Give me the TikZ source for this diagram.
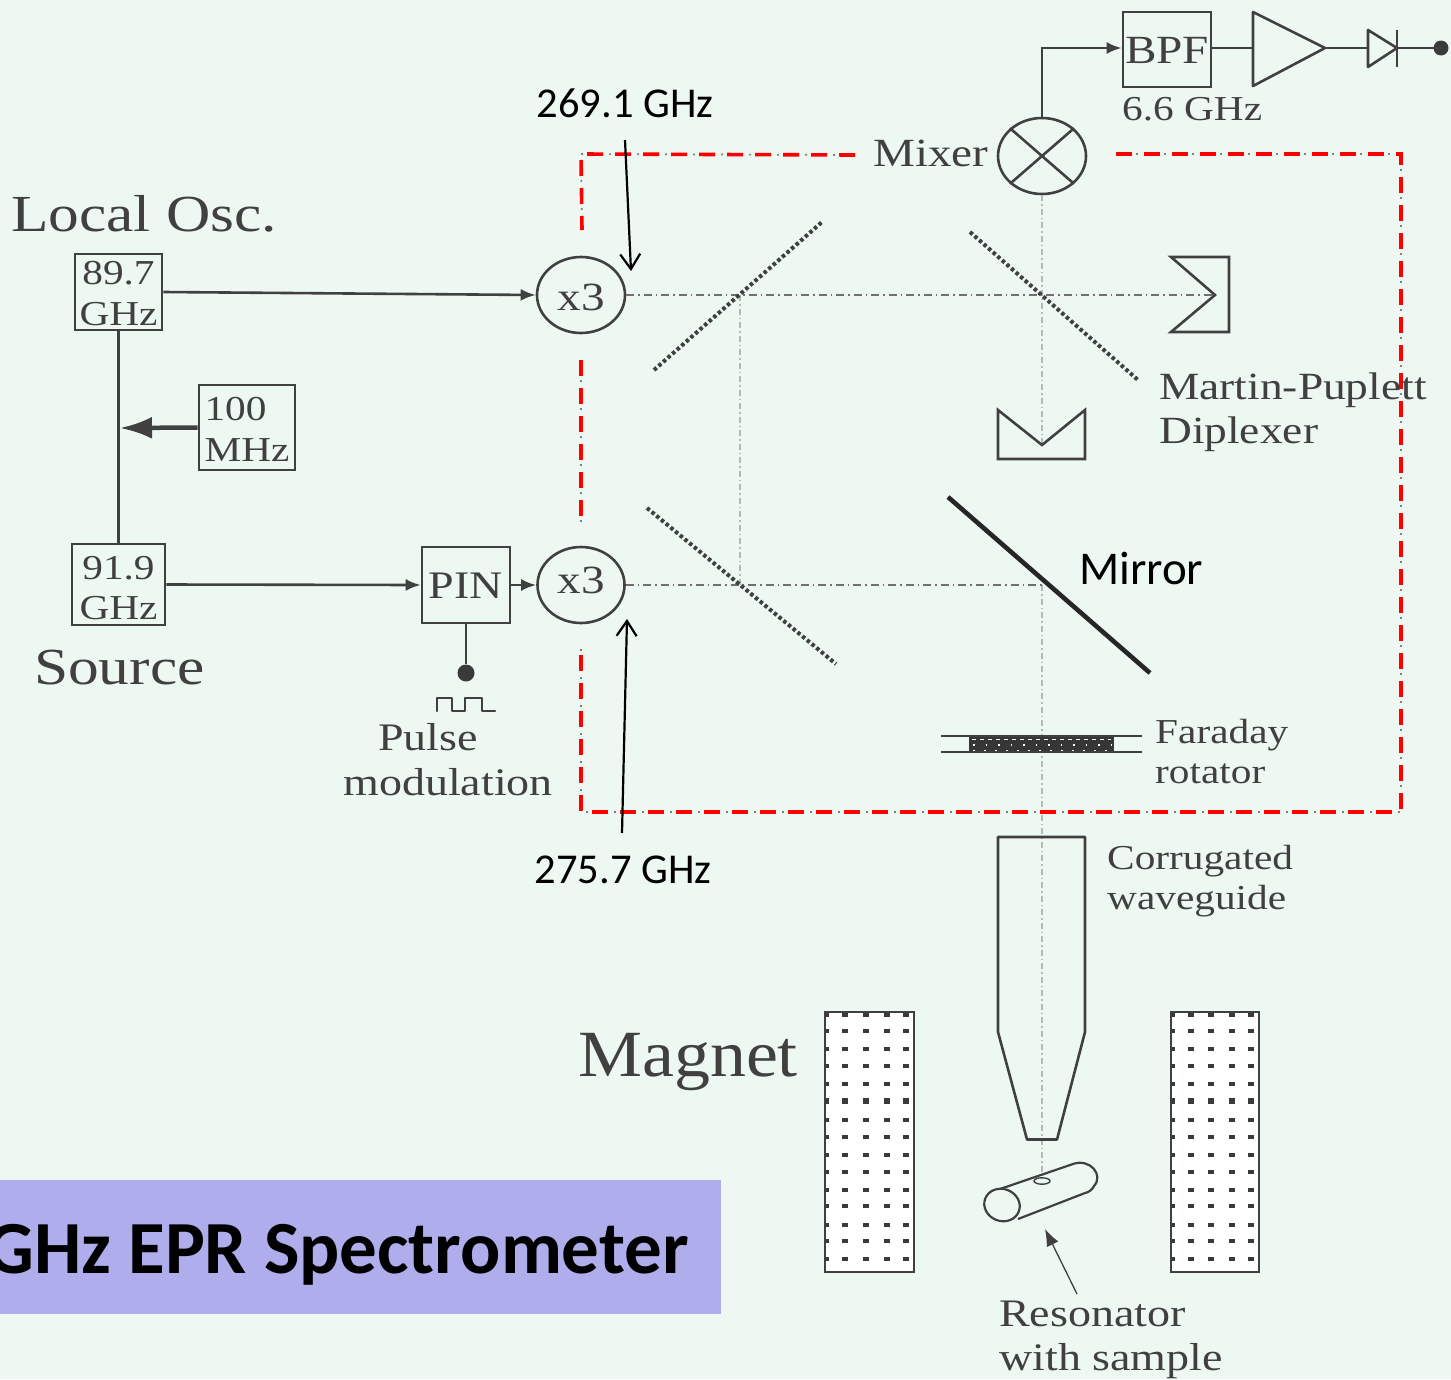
\documentclass[tikz,border=0pt]{standalone}
\usepackage{fontspec}
\setmainfont[FakeStretch=1.18]{Liberation Serif}
\newfontfamily\magfont[FakeStretch=1.09]{Liberation Serif}
\newfontfamily\calib{Carlito}
\usetikzlibrary{arrows.meta,shapes.geometric}
\definecolor{bgc}{HTML}{EEF8F3}
\definecolor{ink}{HTML}{404040}
\definecolor{barc}{HTML}{AFADEB}
\definecolor{beamc}{HTML}{B4B9B7}
\newcommand\fs[2]{\fontsize{#1}{#2}\selectfont}
\tikzset{
  wire/.style={draw=ink,line width=2.6pt},
  box/.style={draw=ink,line width=2.6pt,inner sep=0pt},
  boxtxt/.style={text=ink,inner sep=0pt,align=center},
  circ/.style={ellipse,draw=ink,line width=2.6pt,inner sep=0pt,text=ink},
  lbl/.style={text=ink,inner sep=0pt,align=left,anchor=west},
  anno/.style={text=black,inner sep=0pt,font=\calib\fs{42.5}{46}},
  beam/.style={draw=beamc,line width=2.2pt,dash pattern=on 6pt off 3pt on 1.5pt off 3pt},
  beamdark/.style={draw=ink!75,line width=1.5pt,dash pattern=on 8pt off 4pt on 1.5pt off 4pt},
  redline/.style={draw=red,line width=3.6pt,dash pattern=on 16pt off 12pt},
  grayline/.style={draw=gray,line width=1.7pt,dash pattern=on 8pt off 5pt on 2pt off 5pt on 2pt off 6pt},
  grid/.style={draw=ink,line width=4pt,dash pattern=on 3.5pt off 2.6pt},
  ann/.style={draw=black,line width=2.2pt,-{Straight Barb[length=15pt,width=20pt,line width=2.2pt]}},
  tip/.style={-{Latex[length=15pt,width=12pt]}},
  mag/.style={draw=ink,line width=2.6pt,fill=white},
  magdot/.style={fill=ink!90!black,minimum width=6pt,minimum height=3.2pt,inner sep=0pt,draw=none},
  magbig/.style={fill=ink!90!black,minimum width=6pt,minimum height=6pt,inner sep=0pt,draw=none},
  dotnode/.style={circle,fill=ink!90!black,inner sep=0pt,minimum size=#1}
}
\begin{document}
\begin{tikzpicture}[x=1pt,y=-1pt]
\useasboundingbox (0,0) rectangle (1451,1379);
\fill[bgc] (0,0) rectangle (1451,1379);

% coordinates of the optics
\coordinate (roofR) at (1215,295);
\coordinate (roofB) at (1042,445);
\coordinate (mir) at (1042,585);
\coordinate (gridTop) at (740,295);
\coordinate (gridBot) at (740,585);
\coordinate (resTop) at (1042,1178);

% nodes
\node[box,minimum width=87pt,minimum height=76pt] (n89) at (118.5,292) {};
\node[boxtxt,font=\fs{35}{41}] (n89t) at ([yshift=-2pt]n89.center) {89.7\\GHz};
\node[box,minimum width=96pt,minimum height=85pt] (n100) at (247,427.5) {};
\node[boxtxt,font=\fs{35}{41},align=left] (n100t) at (247,429.5) {100\\MHz};
\node[box,minimum width=93pt,minimum height=81pt] (n91) at (118.5,584.5) {};
\node[boxtxt,font=\fs{35}{40}] (n91t) at ([yshift=-4pt]n91.center) {91.9\\GHz};
\node[box,minimum width=88pt,minimum height=76pt] (pin) at (466,585) {};
\node[boxtxt,font=\fs{39}{44}] (pint) at ([yshift=-1pt]pin.center) {PIN};
\node[circ,minimum width=88pt,minimum height=76pt] (x3t) at (581,295) {};
\node[boxtxt,font=\fs{40}{44}] (x3tt) at ([yshift=-2pt]x3t.center) {x3};
\node[circ,minimum width=87pt,minimum height=76pt] (x3b) at (581,585) {};
\node[boxtxt,font=\fs{40}{44}] (x3bt) at ([yshift=5pt]x3b.center) {x3};
\node[circ,minimum width=88pt,minimum height=76pt] (mixer) at (1042,156) {};
\node[box,minimum width=88pt,minimum height=75pt] (bpf) at (1167,49.5) {};
\node[boxtxt,font=\fs{40}{44}] (bpft) at ([yshift=-1pt]bpf.center) {BPF};
\node[dotnode=15pt] (out) at (1441,48) {};
\node[dotnode=17pt] (pdot) at (466,673) {};
\coordinate (junc) at (120,428);
\coordinate (corner) at (1042,48);

% beams
\draw[beam] (mixer.south) -- (roofB);
\draw[beam] (mir) -- (resTop);
\draw[beam] (gridTop) -- (gridBot);
\draw[beamdark] (x3t.east) -- (roofR);
\draw[beamdark] (x3b.east) -- (mir);

% dashed enclosure
\foreach \st in {grayline,redline}{
  \draw[\st] (855,155) -- (581,154) -- (582,230);
  \draw[\st] (1116,154) -- (1401,154) -- (1401,812) -- (581,812) -- (581,645);
  \draw[\st] (581,360) -- (581,525);
}

% wires
\draw[wire,tip] (n89.east) -- (x3t.west);
\draw[wire] (n89.south) -- (n91.north);
\draw[draw=ink,line width=4.5pt,-{Latex[length=32pt,width=22pt]}] (n100.west) -- (junc);
\draw[wire,tip] (n91.east) -- (pin.west);
\draw[wire,tip] (pin.east) -- (x3b.west);
\draw[wire] (pin.south) -- (pdot.north);
\draw[wire,line cap=round,line join=round] (437,711) -- (437,698) -- (452,698) -- (452,711) -- (465,711) -- (465,698) -- (482,698) -- (482,711) -- (495,711);
\draw[wire,tip] (mixer.north) -- (corner) -- (bpf.west |- corner);
% mixer cross
\draw[wire] (mixer.north west) -- (mixer.south east);
\draw[wire] (mixer.north east) -- (mixer.south west);
% amplifier and diode
\node[inner sep=0pt] (ampin) at (1253,48) {};
\node[inner sep=0pt] (amptip) at (1325,48) {};
\node[inner sep=0pt] (dioin) at (1368,48) {};
\node[inner sep=0pt] (diotip) at (1397,48) {};
\draw[wire,line join=round] (1253,12) -- (amptip.center) -- (1253,86) -- cycle;
\draw[wire,line join=round] (1368,30) -- (diotip.center) -- (1368,67) -- cycle;
\draw[wire] (1397,30) -- (1397,67);
\draw[wire] (bpf.east |- ampin) -- (ampin.center);
\draw[wire] (amptip.center) -- (dioin.center);
\draw[wire] (diotip.center) -- (out.center);

% polarisers and mirrors
\draw[grid] (654,370) -- (822,222);
\draw[grid] (970,232) -- (1138,380);
\draw[grid] (647,508) -- (836,664);
\draw[draw=ink!60!black,line width=4.6pt] (948,497) -- (1150,673);
\draw[wire,line join=miter] (1171,257) -- (1229,257) -- (1229,332) -- (1171,332) -- (roofR) -- cycle;
\draw[wire,line join=miter] (998,410) -- (roofB) -- (1085,410) -- (1085,459) -- (998,459) -- cycle;

% Faraday rotator
\fill[ink!85!black] (969,737) rectangle (1114,752);
\draw[white,line width=1pt,dash pattern=on 4pt off 4pt] (972,739) -- (1111,739);
\draw[white,line width=1.4pt,dash pattern=on 1.5pt off 11pt] (973,745) -- (1111,745);
\draw[white,line width=1.2pt,dash pattern=on 2pt off 9pt] (973,751) -- (1111,751);
\draw[wire] (941,736) -- (1142,736);
\draw[wire] (941,752) -- (1142,752);

% corrugated waveguide
\draw[wire,line join=round] (998,837) -- (1085,837) -- (1085,1032) -- (1057,1139.5) -- (1027,1139.5) -- (998,1032) -- cycle;

% magnets
\draw[mag] (825,1012) rectangle (914,1272);
\draw[mag] (1171,1012) rectangle (1259,1272);
\foreach \yy in {1015,1031,1049,1066,1084,1120,1137,1155,1172,1190,1206,1225,1241,1259}{
  \foreach \xx in {845,866,887,906,1191,1211,1232,1251}{
    \node[magdot] at (\xx,\yy) {};
  }
  \node[magdot,minimum width=3pt] at (827,\yy) {};
  \node[magdot,minimum width=3pt] at (1173,\yy) {};
}
\foreach \xx in {845,866,887,906,1191,1211,1232,1251}{
  \node[magbig] at (\xx,1101) {};
}
\node[magbig,minimum width=3pt] at (827,1101) {};
\node[magbig,minimum width=3pt] at (1173,1101) {};

% resonator
\draw[wire,line width=2.2pt,rotate around={-21:(1002,1205)}] (1002,1205) ellipse [x radius=18,y radius=16];
\draw[wire,line width=2.2pt,line join=round] (1000,1189) -- (1073,1164) .. controls (1090,1158) and (1104,1175) .. (1094,1186) .. controls (1092,1190) and (1089,1192) .. (1085,1193) -- (1018,1219);
\draw[wire,line width=1.4pt] (1042,1181) ellipse [x radius=8,y radius=3.2];
\coordinate (resNote) at (1077,1294);
\coordinate (resTip) at (1045,1229);
\draw[draw=ink,line width=1.3pt,-{Latex[length=17pt,width=13pt]}] (resNote) -- (resTip);

% labels
\node[lbl,font=\fs{52}{56}] (tLO) at (11,214) {Local Osc.};
\node[lbl,font=\fs{52}{56}] (tSrc) at (34,668) {Source};
\node[lbl,font=\magfont\fs{66}{70}] (tMag) at (578,1062) {Magnet};
\node[lbl,font=\fs{40}{44}] (tMix) at (873,153) {Mixer};
\node[lbl,font=\fs{35}{38}] (t66) at (1122,109) {6.6 GHz};
\node[lbl,font=\fs{38.5}{44}] (tMP) at (1159,412.5) {Martin-Puplett\\Diplexer};
\node[lbl,font=\fs{35}{40}] (tFar) at (1155,752) {Faraday\\rotator};
\node[lbl,font=\fs{35}{40}] (tCor) at (1107,881) {Corrugated\\waveguide};
\node[lbl,font=\fs{39}{44}] (tRes) at (999,1340) {Resonator\\with sample};
\node[lbl,font=\fs{39}{45}] (tPul) at (343,760) {\hspace*{35pt}Pulse\\modulation};

% added annotations
\node[anno] (f1) at (625,103) {269.1 GHz};
\node[anno] (f2) at (623,870) {275.7 GHz};
\node[anno,anchor=west,font=\calib\fs{47}{50}] (tMir) at (1079,568) {Mirror};
\coordinate (f1tip) at (631,271);
\coordinate (f2tip) at (627,619);
\coordinate (f1tail) at (625,140);
\coordinate (f2tail) at (622,833);
\draw[ann] (f1tail) -- (f1tip);
\draw[ann] (f2tail) -- (f2tip);

% title bar
\fill[barc] (0,1180) rectangle (721,1314);
\begin{scope}
\clip (0,1180) rectangle (721,1314);
\node[inner sep=0pt,anchor=base east,text=black,font=\calib\bfseries\fs{75}{80}] (title) at (689,1273) {GHz EPR Spectrometer};
\end{scope}
\end{tikzpicture}
\end{document}
